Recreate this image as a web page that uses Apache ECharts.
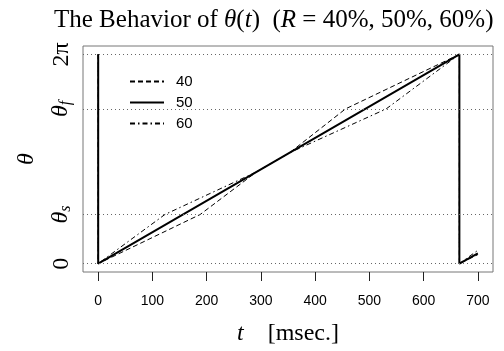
<!DOCTYPE html>
<html>
<head>
<meta charset="utf-8">
<script src="https://cdn.jsdelivr.net/npm/echarts@6/dist/echarts.min.js"></script>
<style>
  html, body { margin: 0; padding: 0; background: #fff; }
  #chart { width: 504px; height: 351px; }
</style>
</head>
<body>
<div id="chart"></div>
<script>
// reference levels on the theta axis
const TWO_PI = 2 * Math.PI;
const TH_S = 1.475;
const TH_F = 4.645;

// x ticks [msec.]
const tTicks = [0, 100, 200, 300, 400, 500, 600, 700];
const thTicks = [0, TH_S, TH_F, TWO_PI];

// [t, theta]
const r40 = [[0, TWO_PI], [0, 0], [188, TH_S], [292, 2.755], [353, 3.33], [456, TH_F], [666, TWO_PI], [666, 0], [700, 0.27]];
const r50 = [[0, TWO_PI], [0, 0], [666, TWO_PI], [666, 0], [700, 0.31]];
const r60 = [[0, TWO_PI], [0, 0], [123, TH_S], [292, 2.755], [353, 3.33], [531, TH_F], [666, TWO_PI], [666, 0], [700, 0.40]];

const serif = "'Liberation Serif', 'DejaVu Serif', serif";
const sans = "'Liberation Sans', Arial, sans-serif";

const chart = echarts.init(document.getElementById("chart"));

function thLabel(v) {
  if (Math.abs(v) < 1e-6) return "0";
  if (Math.abs(v - TWO_PI) < 1e-3) return "2π";
  if (Math.abs(v - TH_S) < 1e-3) return "{i|θ}{sub|s}";
  if (Math.abs(v - TH_F) < 1e-3) return "{i|θ}{sub|f}";
  return "";
}

const option = {
  animation: false,
  title: {
    text: "The Behavior of {i|θ}({i|t})  ({i|R} = 40%, 50%, 60%)",
    left: 49,
    top: 3,
    textStyle: {
      fontFamily: serif,
      fontSize: 25,
      fontWeight: "normal",
      color: "#000",
      rich: {
        i: { fontFamily: serif, fontSize: 25, fontStyle: "italic", color: "#000" }
      }
    }
  },
  legend: {
    orient: "vertical",
    left: 124,
    top: 69,
    itemGap: 6,
    itemWidth: 34,
    itemHeight: 14,
    itemStyle: { opacity: 0 },
    textStyle: { fontFamily: sans, fontSize: 15, color: "#000", padding: [0, 0, 0, 7] },
    data: ["40", "50", "60"]
  },
  grid: {
    left: 83,
    right: 11,
    top: 46,
    bottom: 73,
    show: true,
    borderColor: "#777",
    borderWidth: 1
  },
  xAxis: {
    type: "value",
    min: -28,
    max: 728,
    name: "{i|t}    [msec.]",
    nameLocation: "middle",
    nameGap: 50,
    nameTextStyle: {
      fontFamily: serif,
      fontSize: 24,
      color: "#000",
      rich: { i: { fontFamily: serif, fontSize: 24, fontStyle: "italic", color: "#000" } }
    },
    axisLine: { show: false, onZero: false },
    axisTick: { show: true, customValues: tTicks, length: 9, inside: false, lineStyle: { color: "#222" } },
    axisLabel: { customValues: tTicks, margin: 22, fontFamily: sans, fontSize: 14, color: "#000" },
    splitLine: { show: false }
  },
  yAxis: {
    type: "value",
    min: -0.251,
    max: 6.534,
    name: "θ",
    nameLocation: "middle",
    nameRotate: 90,
    nameGap: 44,
    nameTextStyle: { fontFamily: serif, fontSize: 24, fontStyle: "italic", color: "#000" },
    axisLine: { show: false, onZero: false },
    axisTick: { show: false },
    axisLabel: {
      customValues: thTicks,
      rotate: 90,
      margin: 9,
      fontFamily: serif,
      fontSize: 24,
      color: "#000",
      formatter: thLabel,
      rich: {
        i: { fontFamily: serif, fontSize: 24, fontStyle: "italic", color: "#000" },
        sub: { fontFamily: serif, fontSize: 16, fontStyle: "italic", color: "#000", padding: [10, 0, 0, 0] }
      }
    },
    splitLine: { show: false }
  },
  series: [
    {
      name: "40",
      type: "line",
      data: r40,
      symbol: "none",
      lineStyle: { color: "#000", width: 1, type: [5, 3] },
      itemStyle: { color: "#000" },
      markLine: {
        silent: true,
        symbol: "none",
        label: { show: false },
        lineStyle: { color: "#666", width: 1, type: [1, 3] },
        data: thTicks.map(v => ({ yAxis: v }))
      }
    },
    {
      name: "50",
      type: "line",
      data: r50,
      symbol: "none",
      lineStyle: { color: "#000", width: 2, type: "solid" },
      itemStyle: { color: "#000" }
    },
    {
      name: "60",
      type: "line",
      data: r60,
      symbol: "none",
      lineStyle: { color: "#000", width: 1, type: [5, 3, 1.5, 3] },
      itemStyle: { color: "#000" }
    }
  ]
};

chart.setOption(option);
</script>
</body>
</html>
